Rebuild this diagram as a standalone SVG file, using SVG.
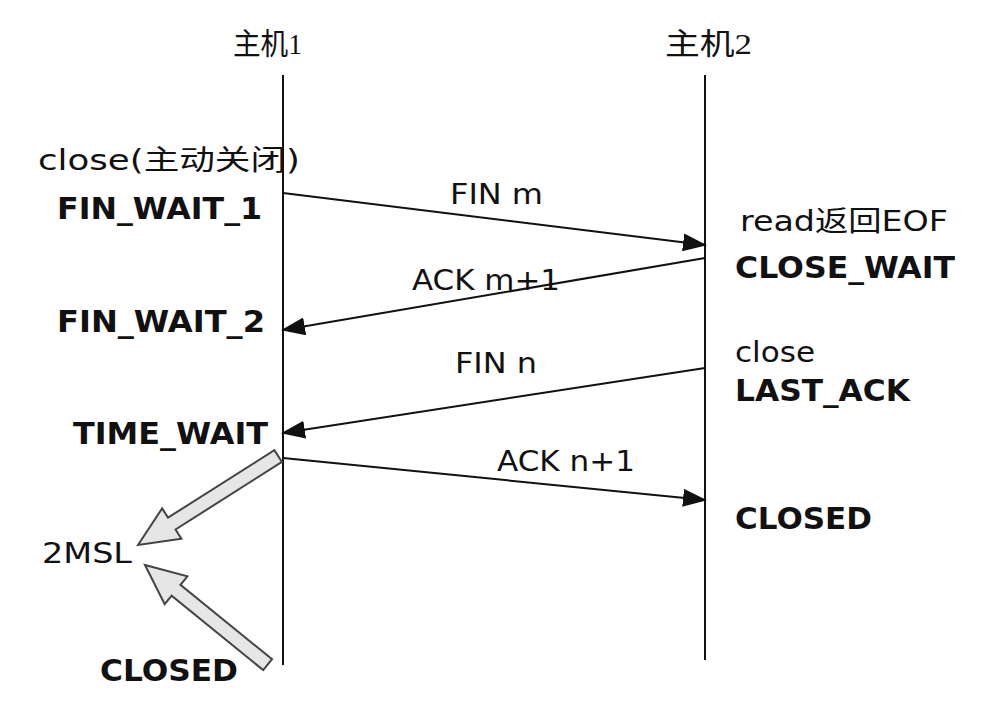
<svg xmlns="http://www.w3.org/2000/svg" width="982" height="720" viewBox="0 0 982 720">
<style>
text{font-family:"DejaVu Sans","Noto Sans CJK SC",sans-serif;font-size:28px;fill:#111;lengthAdjust:spacingAndGlyphs}
.b{font-weight:bold;font-size:30px}
.h{font-family:"Liberation Serif","Noto Sans CJK SC",serif;font-size:30px}
.life{stroke:#111;stroke-width:2}
.msg{stroke:#111;stroke-width:2;fill:none;marker-end:url(#ah2)}
.hollow{fill:#e6e6e6;stroke:#444;stroke-width:2}
</style>
<defs>
<marker id="ah2" markerWidth="24" markerHeight="18" refX="22" refY="9" orient="auto" markerUnits="userSpaceOnUse" viewBox="0 0 24 18"><path d="M0,0 L24,9 L0,18 Z" fill="#111"/></marker>
</defs>
<g id="host1"><text class="h" x="233" y="54" textLength="69" lengthAdjust="spacingAndGlyphs">主机1</text><line class="life" x1="283" y1="75" x2="283" y2="665"/></g>
<g id="host2"><text class="h" x="665" y="54" textLength="87" lengthAdjust="spacingAndGlyphs">主机2</text><line class="life" x1="705" y1="75" x2="705" y2="660"/></g>
<g id="connectors">
<line class="msg" x1="283" y1="193" x2="705" y2="245"/>
<line class="msg" x1="705" y1="258" x2="283" y2="330"/>
<line class="msg" x1="705" y1="368" x2="283" y2="433"/>
<line class="msg" x1="283" y1="458" x2="705" y2="500"/>
<polygon class="hollow" transform="translate(138,545) rotate(-32.4)" points="0,0 40,-18 40,-7 166,-7 166,7 40,7 40,18"/>
<polygon class="hollow" transform="translate(145,565) rotate(39.1)" points="0,0 40,-18 40,-7 158,-7 158,7 40,7 40,18"/>
</g>
<g id="labels">
<text x="38" y="170" textLength="262" lengthAdjust="spacingAndGlyphs">close(主动关闭)</text>
<text class="b" x="57" y="219" textLength="205" lengthAdjust="spacingAndGlyphs">FIN_WAIT_1</text>
<text x="450" y="204" textLength="93" lengthAdjust="spacingAndGlyphs">FIN m</text>
<text x="740" y="231" textLength="208" lengthAdjust="spacingAndGlyphs">read返回EOF</text>
<text class="b" x="735" y="278" textLength="220" lengthAdjust="spacingAndGlyphs">CLOSE_WAIT</text>
<text x="412" y="290" textLength="148" lengthAdjust="spacingAndGlyphs">ACK m+1</text>
<text class="b" x="57" y="332" textLength="208" lengthAdjust="spacingAndGlyphs">FIN_WAIT_2</text>
<text x="735" y="362" textLength="80" lengthAdjust="spacingAndGlyphs">close</text>
<text class="b" x="735" y="401" textLength="175" lengthAdjust="spacingAndGlyphs">LAST_ACK</text>
<text x="455" y="373" textLength="82" lengthAdjust="spacingAndGlyphs">FIN n</text>
<text class="b" x="73" y="444" textLength="195" lengthAdjust="spacingAndGlyphs">TIME_WAIT</text>
<text x="497" y="471" textLength="138" lengthAdjust="spacingAndGlyphs">ACK n+1</text>
<text class="b" x="735" y="529" textLength="137" lengthAdjust="spacingAndGlyphs">CLOSED</text>
<text x="42" y="563" textLength="90" lengthAdjust="spacingAndGlyphs">2MSL</text>
<text class="b" x="100" y="681" textLength="138" lengthAdjust="spacingAndGlyphs">CLOSED</text>
</g>
</svg>
